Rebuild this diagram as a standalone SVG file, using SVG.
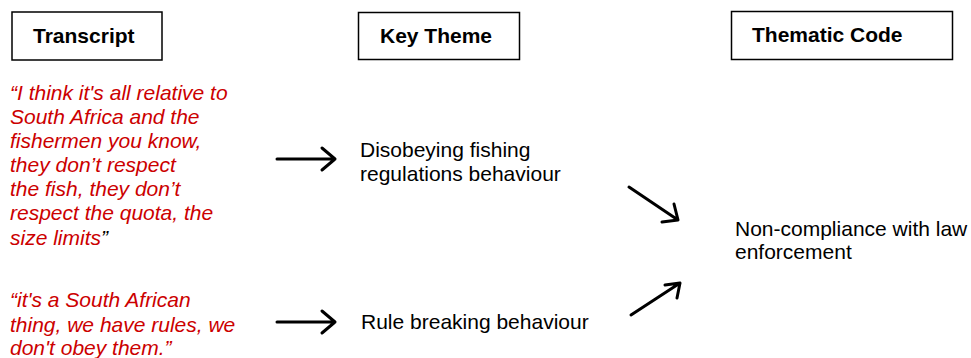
<svg xmlns="http://www.w3.org/2000/svg" width="971" height="358" viewBox="0 0 971 358">
<style>
.box{fill:#fff;stroke:#000;stroke-width:1.5}
.hdr{font-family:"Liberation Sans",Arial,sans-serif;font-weight:bold;font-size:21px;fill:#000}
.quote{font-family:"Liberation Sans",Arial,sans-serif;font-style:italic;font-size:21px;fill:#cc0000}
.lbl{font-family:"Liberation Sans",Arial,sans-serif;font-size:21px;fill:#000}
.arr{fill:none;stroke:#000;stroke-width:3;stroke-linecap:round;stroke-linejoin:round}
</style>
<rect width="971" height="358" fill="#fff"/>
<g id="hdr-transcript">
<rect class="box" x="12" y="12" width="150" height="48"/>
<text class="hdr" x="33" y="43">Transcript</text>
</g>
<g id="hdr-keytheme">
<rect class="box" x="358.5" y="12.5" width="161" height="47"/>
<text class="hdr" x="380" y="43">Key Theme</text>
</g>
<g id="hdr-code">
<rect class="box" x="731.5" y="11.5" width="221" height="48"/>
<text class="hdr" x="752" y="42">Thematic Code</text>
</g>
<g id="quote1">
<text class="quote"><tspan x="10" y="100">“I think it's all relative to</tspan><tspan x="10" y="124">South Africa and the</tspan><tspan x="10" y="148">fishermen you know,</tspan><tspan x="10" y="172">they don’t respect</tspan><tspan x="10" y="196">the fish, they don’t</tspan><tspan x="10" y="220">respect the quota, the</tspan><tspan x="10" y="245">size limits<tspan fill="#000">”</tspan></tspan></text>
</g>
<g id="quote2">
<text class="quote"><tspan x="10" y="307">“it's a South African</tspan><tspan x="10" y="332">thing, we have rules, we</tspan><tspan x="10" y="355">don't obey them.”</tspan></text>
</g>
<g id="theme1">
<text class="lbl"><tspan x="360" y="157">Disobeying fishing</tspan><tspan x="360" y="181">regulations behaviour</tspan></text>
</g>
<g id="theme2">
<text class="lbl" x="361" y="329">Rule breaking behaviour</text>
</g>
<g id="code1">
<text class="lbl"><tspan x="735" y="236">Non-compliance with law</tspan><tspan x="735" y="259">enforcement</tspan></text>
</g>
<g id="connectors">
<path class="arr" d="M277 159H335M322 148L335 159L322 170"/>
<path class="arr" d="M277 322H335M322 311L335 322L322 333"/>
<path class="arr" d="M629 187L678 220M662 222L678 220L674 204"/>
<path class="arr" d="M631 315L680 283M665 285L680 283L677 298"/>
</g>
</svg>
